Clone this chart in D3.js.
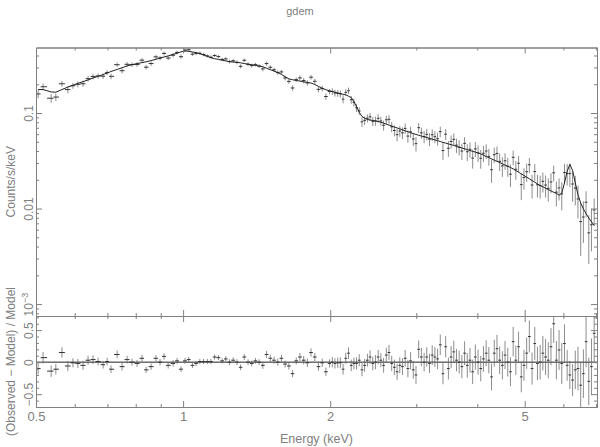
<!DOCTYPE html>
<html>
<head>
<meta charset="utf-8">
<script src="https://cdn.jsdelivr.net/npm/d3@7"></script>
<style>
body { margin: 0; background: #fff; }
text { font-family: "Liberation Sans", Arial, sans-serif; fill: #808080; }
</style>
</head>
<body>
<svg width="600" height="447"></svg>
<script>
// bin centres (keV)
var energy = [
  0.505,0.517,0.537,0.549,0.565,0.581,0.595,0.609,0.624,0.639,0.654,0.670,0.686,0.699,0.712,0.733,
  0.750,0.768,0.786,0.805,0.824,0.840,0.860,0.880,0.897,0.914,0.932,0.954,0.972,0.990,1.009,
  1.027,1.045,1.063,1.082,1.101,1.121,1.140,1.160,1.181,1.202,1.223,1.244,1.266,1.289,1.311,1.334,
  1.358,1.382,1.406,1.431,1.456,1.482,1.508,1.535,1.562,1.589,1.617,1.646,1.675,1.704,1.734,1.765,
  1.796,1.827,1.860,1.892,1.926,1.960,1.994,
  2.020,2.045,2.072,2.098,2.125,2.152,2.180,2.208,2.236,2.264,2.293,2.323,2.352,2.383,2.413,2.444,
  2.475,2.507,2.539,2.572,2.605,2.638,2.672,2.706,2.741,2.776,2.811,2.847,2.884,2.921,2.958,2.996,
  3.034,3.073,3.113,3.152,3.193,3.234,3.275,3.317,3.359,3.402,3.446,3.490,3.535,3.580,3.626,3.672,
  3.719,3.767,3.815,3.864,3.913,3.963,4.014,4.065,4.117,4.170,4.223,4.277,4.332,4.388,4.444,4.501,
  4.558,4.617,4.676,4.736,4.796,4.858,4.920,4.983,5.047,5.111,5.177,5.243,5.310,5.378,5.447,5.517,
  5.588,5.659,5.732,5.805,5.879,5.955,6.031,6.108,6.186,6.266,6.346,6.427,6.510,6.593,6.677,6.763,
  6.849,6.937
];

// folded model (counts/s/keV)
var model = [
  0.176,0.176,0.166,0.165,0.176,0.187,0.195,0.204,0.213,0.222,0.232,0.242,0.253,0.262,0.272,0.286,
  0.298,0.311,0.321,0.329,0.337,0.343,0.354,0.365,0.376,0.386,0.396,0.411,0.422,0.437,0.447,
  0.442,0.435,0.429,0.418,0.405,0.392,0.380,0.370,0.364,0.357,0.351,0.345,0.342,0.339,0.335,0.330,
  0.324,0.320,0.315,0.310,0.305,0.294,0.284,0.275,0.265,0.254,0.240,0.228,0.223,0.219,0.216,0.212,
  0.209,0.206,0.199,0.190,0.182,0.175,0.171,
  0.168,0.165,0.162,0.160,0.157,0.155,0.150,0.145,0.132,0.116,0.102,0.0919,0.0882,0.0855,0.0845,0.0835,
  0.0825,0.0815,0.0801,0.0782,0.0765,0.0747,0.0731,0.0713,0.0698,0.0682,0.0667,0.0651,0.0637,0.0622,0.0608,0.0597,
  0.0585,0.0574,0.0565,0.0554,0.0543,0.0533,0.0523,0.0513,0.0503,0.0493,0.0484,0.0475,0.0466,0.0457,0.0447,0.0438,
  0.0430,0.0422,0.0414,0.0405,0.0397,0.0390,0.0382,0.0373,0.0361,0.0351,0.0341,0.0331,0.0321,0.0312,0.0303,0.0294,
  0.0285,0.0277,0.0269,0.0260,0.0250,0.0240,0.0231,0.0222,0.0213,0.0205,0.0196,0.0189,0.0181,0.0174,0.0169,0.0163,
  0.0158,0.0153,0.0148,0.0144,0.0138,0.0145,0.0185,0.0245,0.0290,0.0251,0.0186,0.0140,0.0114,0.00993,0.00882,0.00795,
  0.00727,0.00667
];

// (observed - model) / model
var ratio = [
  -0.10,0.07,-0.14,-0.11,0.15,-0.06,-0.01,-0.02,-0.05,0.03,0.04,0.01,-0.04,0.01,-0.11,0.12,
  -0.07,0.04,0.00,-0.02,0.06,-0.12,-0.07,0.06,0.00,0.09,-0.05,-0.02,0.02,-0.11,0.02,
  0.04,-0.05,-0.02,0.01,0.01,0.01,0.01,0.08,0.07,0.02,0.05,0.00,0.03,0.00,-0.08,0.08,
  0.00,-0.02,0.02,0.00,-0.05,0.12,0.06,0.03,0.00,0.06,-0.03,-0.06,-0.18,0.02,0.08,0.03,
  -0.01,0.15,0.08,-0.07,-0.01,-0.15,-0.02,
  0.00,-0.02,-0.01,-0.01,-0.11,0.06,0.14,-0.05,-0.02,-0.02,0.03,-0.12,-0.05,0.03,0.08,-0.02,
  0.00,0.08,0.03,-0.05,0.11,0.15,-0.02,-0.08,-0.15,-0.05,-0.07,0.06,-0.10,0.02,-0.12,-0.20,
  0.20,0.08,0.00,0.08,-0.02,0.11,0.08,0.05,0.27,-0.18,0.24,-0.10,0.08,0.16,0.03,0.00,
  -0.07,0.14,-0.05,0.03,-0.15,0.08,0.00,-0.10,0.05,0.14,0.03,-0.23,0.14,0.21,0.03,-0.05,
  0.11,0.00,-0.15,0.32,0.03,0.24,-0.23,-0.05,0.14,0.40,-0.10,0.29,-0.02,0.00,0.14,0.08,
  0.03,0.24,0.60,0.03,0.19,-0.02,0.29,-0.05,-0.20,-0.28,-0.12,-0.10,-0.36,-0.18,0.32,-0.30,
  -0.07,0.45
];

// 1-sigma error on the ratio
var ratioErr = [
  0.09,0.09,0.09,0.08,0.08,0.08,0.07,0.07,0.07,0.07,0.07,0.06,0.06,0.06,0.06,0.06,
  0.06,0.06,0.055,0.055,0.055,0.05,0.05,0.05,0.05,0.05,0.05,0.05,0.045,0.045,0.045,
  0.04,0.04,0.04,0.04,0.04,0.04,0.04,0.04,0.04,0.04,0.045,0.045,0.045,0.045,0.045,0.045,
  0.045,0.045,0.045,0.045,0.055,0.055,0.055,0.055,0.055,0.055,0.055,0.055,0.055,0.055,0.065,0.065,
  0.065,0.065,0.065,0.065,0.065,0.065,0.065,
  0.08,0.08,0.08,0.085,0.085,0.085,0.09,0.09,0.09,0.095,0.095,0.10,0.10,0.10,0.105,0.105,
  0.11,0.11,0.11,0.115,0.115,0.12,0.12,0.12,0.125,0.125,0.13,0.13,0.135,0.135,0.14,0.14,
  0.14,0.145,0.145,0.15,0.15,0.155,0.155,0.16,0.16,0.165,0.165,0.17,0.17,0.175,0.175,0.18,
  0.18,0.185,0.19,0.19,0.19,0.195,0.195,0.2,0.2,0.2,0.205,0.21,0.21,0.215,0.215,0.22,
  0.22,0.225,0.225,0.23,0.23,0.235,0.24,0.24,0.245,0.25,0.25,0.26,0.26,0.27,0.27,0.28,
  0.28,0.29,0.30,0.30,0.31,0.32,0.30,0.24,0.22,0.25,0.30,0.34,0.36,0.38,0.40,0.37,
  0.44,0.46
];

var xLabelTicks = [0.5, 1, 2, 5];
var xMajor = [1, 2, 5];
var xMinor = [0.6, 0.7, 0.8, 0.9, 3, 4, 6, 7];
var countTicks = [0.001, 0.01, 0.1];
var resTicks = [-0.5, 0, 0.5];
var resMinor = [-0.6, -0.4, -0.3, -0.2, -0.1, 0.1, 0.2, 0.3, 0.4, 0.6, 0.7];

var svg = d3.select('svg');
var m = {l: 36, r: 597, t: 47.5, mid: 316, b: 407};
var grey = '#808080', ink = '#333', barInk = '#666';

var x = d3.scaleLog().domain([0.5, 7.03]).range([m.l, m.r]);
var y = d3.scaleLog().domain([7.5e-4, 0.485]).range([m.mid, m.t]);
var yr = d3.scaleLinear().domain([-0.70, 0.72]).range([m.b, m.mid]);

var bins = energy.map(function(e, i) {
  var n = energy.length;
  var lo = i > 0 ? Math.sqrt(energy[i-1] * e) : e * e / Math.sqrt(e * energy[i+1]);
  var hi = i < n - 1 ? Math.sqrt(e * energy[i+1]) : e * e / Math.sqrt(energy[i-1] * e);
  return {e: e, lo: lo, hi: hi, m: model[i], r: ratio[i], s: ratioErr[i]};
});

function clamp(v, dom) { return Math.max(dom[0], Math.min(dom[1], v)); }

// clip paths
var defs = svg.append('defs');
defs.append('clipPath').attr('id', 'clipTop').append('rect')
  .attr('x', m.l).attr('y', m.t).attr('width', m.r - m.l).attr('height', m.mid - m.t);
defs.append('clipPath').attr('id', 'clipRes').append('rect')
  .attr('x', m.l).attr('y', m.mid).attr('width', m.r - m.l).attr('height', m.b - m.mid);

// draws one cross per bin: light vertical error bar, darker bin-width bar
function crosses(g, cls, yScale, val, low, high) {
  var dom = yScale.domain();
  g.selectAll('path.' + cls + 'v')
    .data(bins)
    .enter().append('path')
    .attr('class', cls + 'v')
    .attr('fill', 'none')
    .attr('stroke', barInk)
    .attr('stroke-width', 0.75)
    .attr('d', function(d) {
      return 'M' + x(d.e) + ',' + yScale(clamp(low(d), dom)) + 'V' + yScale(clamp(high(d), dom));
    });
  g.selectAll('path.' + cls + 'h')
    .data(bins)
    .enter().append('path')
    .attr('class', cls + 'h')
    .attr('fill', 'none')
    .attr('stroke', ink)
    .attr('stroke-width', 1)
    .attr('d', function(d) {
      return 'M' + x(d.lo) + ',' + yScale(val(d)) + 'H' + x(d.hi);
    });
}

// top panel
var gTop = svg.append('g').attr('clip-path', 'url(#clipTop)');
crosses(gTop, 'c', y,
  function(d) { return d.m * (1 + d.r); },
  function(d) { return d.m * (1 + d.r - d.s); },
  function(d) { return d.m * (1 + d.r + d.s); });

gTop.append('path')
  .datum(bins)
  .attr('fill', 'none')
  .attr('stroke', '#222')
  .attr('stroke-width', 1)
  .attr('d', d3.line().x(function(d) { return x(d.e); }).y(function(d) { return y(d.m); }));

// residual panel
var gRes = svg.append('g').attr('clip-path', 'url(#clipRes)');
gRes.append('path')
  .datum(x.domain())
  .attr('stroke', '#222')
  .attr('d', d3.line().x(function(d) { return x(d); }).y(function() { return yr(0); }));

crosses(gRes, 'r', yr,
  function(d) { return d.r; },
  function(d) { return d.r - d.s; },
  function(d) { return d.r + d.s; });

// axes
function addAxis(gen, tx, ty) {
  var g = svg.append('g')
    .attr('transform', 'translate(' + tx + ',' + ty + ')')
    .call(gen.tickSizeOuter(0));
  g.attr('font-size', 12).attr('font-family', '"Liberation Sans", Arial, sans-serif');
  g.selectAll('path, line').attr('stroke', grey);
  g.selectAll('text').attr('fill', grey);
  return g;
}

function notDecade(d) {
  var l = Math.log10(d);
  return Math.abs(l - Math.round(l)) > 1e-6;
}

// horizontal axes for both panels
[m.t, m.mid].forEach(function(py) {
  addAxis(d3.axisTop(x).tickValues(xMajor).tickSize(-6).tickFormat(''), 0, py);
  addAxis(d3.axisTop(x).tickValues(xMinor).tickSize(-3).tickFormat(''), 0, py);
});
[m.mid, m.b].forEach(function(py) {
  addAxis(d3.axisBottom(x).tickValues(xMajor).tickSize(-6).tickFormat(''), 0, py);
  addAxis(d3.axisBottom(x).tickValues(xMinor).tickSize(-3).tickFormat(''), 0, py);
});
var xl = addAxis(d3.axisBottom(x).tickValues(xLabelTicks).tickSize(0).tickPadding(5)
  .tickFormat(function(d) { return String(d); }), 0, m.b);
xl.attr('font-size', 13);
xl.select('.domain').remove();

// vertical axes: counts
var yl = addAxis(d3.axisLeft(y).tickValues(countTicks).tickSize(-6)
  .tickFormat(function(d) { return d === 0.001 ? '10' : String(d); }), m.l, 0);
addAxis(d3.axisLeft(y).tickValues(y.ticks().filter(notDecade)).tickSize(-3).tickFormat(''), m.l, 0);
addAxis(d3.axisRight(y).tickValues(countTicks).tickSize(-6).tickFormat(''), m.r, 0);
addAxis(d3.axisRight(y).tickValues(y.ticks().filter(notDecade)).tickSize(-3).tickFormat(''), m.r, 0);

// vertical axes: residuals
var rl = addAxis(d3.axisLeft(yr).tickValues(resTicks).tickSize(-6)
  .tickFormat(function(d) { return d === 0 ? '0' : d3.format('.1f')(d); }), m.l, 0);
addAxis(d3.axisLeft(yr).tickValues(resMinor).tickSize(-3).tickFormat(''), m.l, 0);
addAxis(d3.axisRight(yr).tickValues(resTicks).tickSize(-6).tickFormat(''), m.r, 0);
addAxis(d3.axisRight(yr).tickValues(resMinor).tickSize(-3).tickFormat(''), m.r, 0);

// rotate left tick labels like the original
[yl, rl].forEach(function(g) {
  g.selectAll('.tick text')
    .attr('x', null).attr('dy', null)
    .attr('text-anchor', 'middle')
    .attr('transform', 'translate(-3.5,0) rotate(-90)');
});
yl.selectAll('.tick text').filter(function(d) { return d === 0.001; })
  .append('tspan').attr('dy', '-0.45em').attr('font-size', 9).text('\u22123');

// titles
svg.append('text')
  .attr('x', 300).attr('y', 15)
  .attr('text-anchor', 'middle')
  .style('font-size', '11px')
  .text('gdem');

svg.append('text')
  .attr('x', (m.l + m.r) / 2).attr('y', 443)
  .attr('text-anchor', 'middle')
  .style('font-size', '12.5px')
  .text('Energy (keV)');

svg.append('text')
  .attr('transform', 'translate(15,' + (m.t + m.mid) / 2 + ') rotate(-90)')
  .attr('text-anchor', 'middle')
  .style('font-size', '12px')
  .text('Counts/s/keV');

svg.append('text')
  .attr('transform', 'translate(15,' + (m.mid + m.b) / 2 + ') rotate(-90)')
  .attr('text-anchor', 'middle')
  .style('font-size', '12px')
  .text('(Observed \u2212 Model) / Model');
</script>
</body>
</html>
